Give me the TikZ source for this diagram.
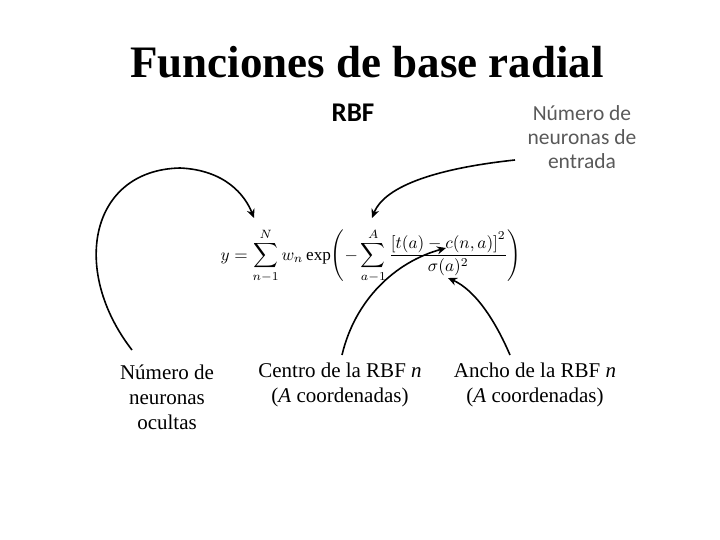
\documentclass[tikz,border=0pt]{standalone}
\usepackage{fontspec}
\setmainfont{Liberation Serif}
\newfontfamily\calib{Carlito}
\usetikzlibrary{arrows.meta}
\begin{document}
\begin{tikzpicture}[x=1pt,y=-1pt,
  lbl/.style={align=center,inner sep=0.75pt,font=\fontsize{21}{25}\selectfont},
  note/.style={align=center,inner sep=0.75pt,text=black!65,font=\calib\fontsize{21.5}{24}\selectfont},
  pointer/.style={line width=1.6pt,-{Stealth[length=9pt,width=8pt]}}]
\useasboundingbox (0,0) rectangle (720,540);

% Title and heading
\node (title) at (367,62) {\fontsize{45}{48}\selectfont\bfseries Funciones de base radial};
\node (rbf) at (353,113) {\calib\fontsize{27}{29}\selectfont\bfseries RBF};

% Formula
\node[scale=1.72] (eq) at (371,256) {
  $\displaystyle y=\sum_{n-1}^{N} w_n \exp\!\left(-\sum_{a-1}^{A}\frac{\left[t(a)-c(n,a)\right]^2}{\sigma(a)^2}\right)$};
\coordinate (sumN) at (254,218);
\coordinate (sumA) at (372,218);
\coordinate (cpt) at (446,248);
\coordinate (spt) at (448,278);

% Labels
\node[note] (inputs) at (582,137) {Número de\\neuronas de\\entrada};
\node[lbl] (hidden) at (167,397) {Número de\\neuronas\\ocultas};
\node[lbl] (centre) at (340,385) {Centro de la RBF \textit{n}\\(\textit{A} coordenadas)};
\node[lbl] (width) at (535,385) {Ancho de la RBF \textit{n}\\(\textit{A} coordenadas)};

% Pointers
\draw[pointer] (132,350) .. controls (70,270) and (90,170) .. (180,168) .. controls (225,170) and (245,195) .. (sumN);
\draw[pointer] (515,160) .. controls (440,168) and (385,185) .. (sumA);
\draw[pointer] (342,355) .. controls (355,300) and (395,262) .. (cpt);
\draw[pointer] (510,355) .. controls (495,320) and (475,290) .. (spt);
\end{tikzpicture}
\end{document}
